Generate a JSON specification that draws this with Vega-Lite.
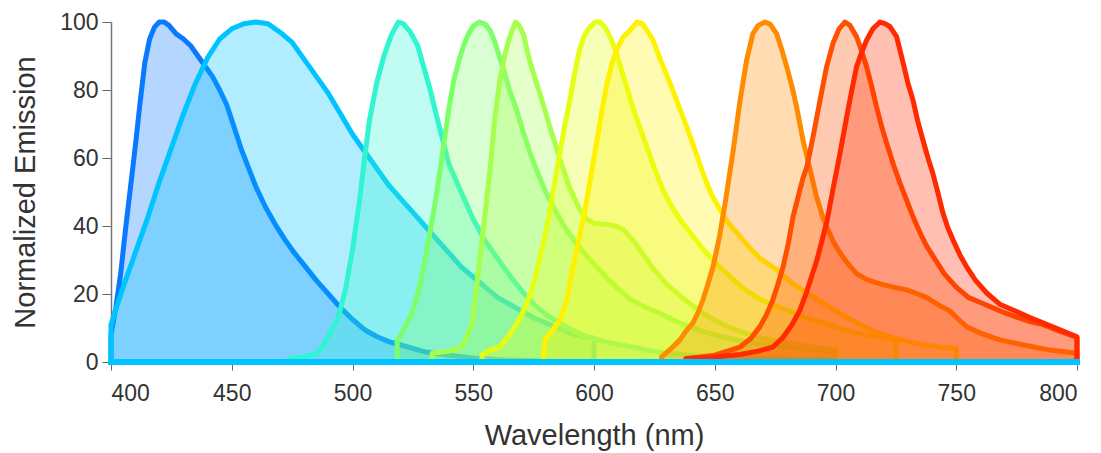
{
  "$schema": "https://vega.github.io/schema/vega-lite/v6.json",
  "width": 966,
  "height": 340,
  "autosize": "none",
  "padding": {"left": 111, "top": 22, "right": 24, "bottom": 91},
  "background": "white",
  "config": {"view": {"stroke": null}, "font": "Liberation Sans"},
  "datasets": {
    "spectra": [
      {"s":"a","x":400,"y":8},{"s":"a","x":402,"y":16},{"s":"a","x":404,"y":26},{"s":"a","x":406,"y":39},{"s":"a","x":408,"y":51},{"s":"a","x":410,"y":63},{"s":"a","x":412,"y":76},{"s":"a","x":414,"y":88},{"s":"a","x":416,"y":95},{"s":"a","x":418,"y":98.5},{"s":"a","x":420,"y":100},{"s":"a","x":422,"y":100},{"s":"a","x":424,"y":99},{"s":"a","x":427,"y":96.5},{"s":"a","x":430,"y":95},{"s":"a","x":433,"y":93},{"s":"a","x":436,"y":90},{"s":"a","x":439,"y":87},{"s":"a","x":442,"y":84},{"s":"a","x":445,"y":80},{"s":"a","x":448,"y":75.5},{"s":"a","x":451,"y":69},{"s":"a","x":454,"y":62.5},{"s":"a","x":457,"y":57},{"s":"a","x":460,"y":51.5},{"s":"a","x":464,"y":45.5},{"s":"a","x":468,"y":40.5},{"s":"a","x":472,"y":36},{"s":"a","x":476,"y":32},{"s":"a","x":480,"y":28.5},{"s":"a","x":485,"y":24},{"s":"a","x":490,"y":20},{"s":"a","x":495,"y":16},{"s":"a","x":500,"y":12.5},{"s":"a","x":505,"y":9.5},{"s":"a","x":510,"y":7.5},{"s":"a","x":515,"y":6},{"s":"a","x":520,"y":5},{"s":"a","x":530,"y":3},{"s":"a","x":540,"y":2},{"s":"a","x":550,"y":1.2},{"s":"a","x":565,"y":0.6},{"s":"a","x":580,"y":0.3},{"s":"a","x":600,"y":0},
      {"s":"b","x":400,"y":11},{"s":"b","x":405,"y":22},{"s":"b","x":410,"y":32},{"s":"b","x":415,"y":42},{"s":"b","x":420,"y":53},{"s":"b","x":425,"y":63},{"s":"b","x":430,"y":73},{"s":"b","x":435,"y":82},{"s":"b","x":440,"y":89.5},{"s":"b","x":445,"y":95},{"s":"b","x":450,"y":98},{"s":"b","x":455,"y":99.5},{"s":"b","x":460,"y":100},{"s":"b","x":465,"y":99.5},{"s":"b","x":470,"y":97},{"s":"b","x":475,"y":94},{"s":"b","x":480,"y":89},{"s":"b","x":485,"y":84},{"s":"b","x":490,"y":79},{"s":"b","x":495,"y":73},{"s":"b","x":500,"y":67},{"s":"b","x":505,"y":62},{"s":"b","x":510,"y":57},{"s":"b","x":515,"y":52},{"s":"b","x":520,"y":48},{"s":"b","x":525,"y":44},{"s":"b","x":530,"y":40},{"s":"b","x":535,"y":36},{"s":"b","x":540,"y":32},{"s":"b","x":545,"y":28},{"s":"b","x":550,"y":25},{"s":"b","x":555,"y":22},{"s":"b","x":560,"y":19},{"s":"b","x":565,"y":17},{"s":"b","x":570,"y":15},{"s":"b","x":575,"y":13},{"s":"b","x":580,"y":11.5},{"s":"b","x":585,"y":10},{"s":"b","x":590,"y":8.5},{"s":"b","x":595,"y":7.5},{"s":"b","x":600,"y":7},
      {"s":"c","x":474,"y":1},{"s":"c","x":480,"y":1.5},{"s":"c","x":485,"y":2.6},{"s":"c","x":488,"y":5},{"s":"c","x":491,"y":9},{"s":"c","x":494,"y":13},{"s":"c","x":497,"y":21},{"s":"c","x":500,"y":33},{"s":"c","x":503,"y":48},{"s":"c","x":505,"y":60},{"s":"c","x":507,"y":71},{"s":"c","x":510,"y":82},{"s":"c","x":513,"y":90},{"s":"c","x":516,"y":96},{"s":"c","x":519,"y":100},{"s":"c","x":521,"y":99.5},{"s":"c","x":524,"y":97},{"s":"c","x":527,"y":93},{"s":"c","x":532,"y":80.5},{"s":"c","x":536,"y":69},{"s":"c","x":540,"y":58},{"s":"c","x":545,"y":50},{"s":"c","x":550,"y":42},{"s":"c","x":555,"y":35.5},{"s":"c","x":560,"y":30.5},{"s":"c","x":565,"y":25.5},{"s":"c","x":570,"y":21},{"s":"c","x":575,"y":17},{"s":"c","x":580,"y":14},{"s":"c","x":585,"y":11.8},{"s":"c","x":590,"y":9.8},{"s":"c","x":595,"y":8},{"s":"c","x":600,"y":6.8},{"s":"c","x":607,"y":5.5},{"s":"c","x":615,"y":4.6},{"s":"c","x":622,"y":3.5},{"s":"c","x":630,"y":2.6},{"s":"c","x":640,"y":2},{"s":"c","x":655,"y":1.5},{"s":"c","x":675,"y":1.1},{"s":"c","x":700,"y":0.8},
      {"s":"d","x":518.5,"y":6},{"s":"d","x":521,"y":9.5},{"s":"d","x":524,"y":13.3},{"s":"d","x":526,"y":17.5},{"s":"d","x":528,"y":23},{"s":"d","x":530,"y":30},{"s":"d","x":532,"y":38},{"s":"d","x":534,"y":46},{"s":"d","x":536,"y":55},{"s":"d","x":538,"y":65},{"s":"d","x":540,"y":75},{"s":"d","x":542,"y":83},{"s":"d","x":544,"y":88.5},{"s":"d","x":546,"y":93},{"s":"d","x":548,"y":96.5},{"s":"d","x":550,"y":98.8},{"s":"d","x":552.5,"y":100},{"s":"d","x":555,"y":99.3},{"s":"d","x":557,"y":97.5},{"s":"d","x":559,"y":94},{"s":"d","x":561,"y":89.5},{"s":"d","x":563,"y":85},{"s":"d","x":565,"y":80},{"s":"d","x":568,"y":74},{"s":"d","x":571,"y":67},{"s":"d","x":574,"y":60.5},{"s":"d","x":577,"y":55},{"s":"d","x":580,"y":50},{"s":"d","x":584,"y":44.5},{"s":"d","x":588,"y":39.5},{"s":"d","x":592,"y":35.5},{"s":"d","x":596,"y":32},{"s":"d","x":600,"y":28.8},{"s":"d","x":605,"y":25},{"s":"d","x":610,"y":21.5},{"s":"d","x":615,"y":18.5},{"s":"d","x":621,"y":16.2},{"s":"d","x":627,"y":14.4},{"s":"d","x":634,"y":12},{"s":"d","x":641,"y":10},{"s":"d","x":650,"y":8},{"s":"d","x":660,"y":6.3},{"s":"d","x":670,"y":5.2},{"s":"d","x":685,"y":4},{"s":"d","x":700,"y":3},
      {"s":"e","x":533,"y":2.6},{"s":"e","x":540,"y":3.2},{"s":"e","x":545,"y":4.4},{"s":"e","x":547,"y":7},{"s":"e","x":549.5,"y":11.5},{"s":"e","x":551.5,"y":23},{"s":"e","x":554,"y":38},{"s":"e","x":557,"y":57},{"s":"e","x":559,"y":72},{"s":"e","x":561,"y":83},{"s":"e","x":563,"y":90},{"s":"e","x":565,"y":95.5},{"s":"e","x":567.5,"y":100},{"s":"e","x":569,"y":99},{"s":"e","x":571,"y":96},{"s":"e","x":572,"y":92.5},{"s":"e","x":574,"y":87},{"s":"e","x":577.6,"y":79},{"s":"e","x":581.8,"y":69},{"s":"e","x":586,"y":59.5},{"s":"e","x":590,"y":51},{"s":"e","x":594,"y":45},{"s":"e","x":597,"y":42},{"s":"e","x":600,"y":40.8},{"s":"e","x":604,"y":40.5},{"s":"e","x":608,"y":40.2},{"s":"e","x":612,"y":39},{"s":"e","x":616,"y":36},{"s":"e","x":620,"y":32},{"s":"e","x":625,"y":27},{"s":"e","x":630,"y":23},{"s":"e","x":635,"y":19.8},{"s":"e","x":641,"y":16.5},{"s":"e","x":648,"y":13},{"s":"e","x":655,"y":10.5},{"s":"e","x":662,"y":8.6},{"s":"e","x":670,"y":7},{"s":"e","x":680,"y":5.5},{"s":"e","x":690,"y":4.4},{"s":"e","x":700,"y":3.6},
      {"s":"f","x":553.6,"y":2},{"s":"f","x":557,"y":3.5},{"s":"f","x":561,"y":4.4},{"s":"f","x":565,"y":8},{"s":"f","x":569,"y":12.4},{"s":"f","x":572,"y":17},{"s":"f","x":575,"y":23},{"s":"f","x":578,"y":32},{"s":"f","x":580,"y":38},{"s":"f","x":582,"y":45.6},{"s":"f","x":584,"y":54},{"s":"f","x":586,"y":62},{"s":"f","x":588,"y":70},{"s":"f","x":590,"y":77},{"s":"f","x":592,"y":85},{"s":"f","x":594,"y":91.8},{"s":"f","x":596,"y":96},{"s":"f","x":598.3,"y":98.5},{"s":"f","x":600.5,"y":100},{"s":"f","x":602.5,"y":100},{"s":"f","x":604.5,"y":98.5},{"s":"f","x":606.6,"y":95.7},{"s":"f","x":609,"y":91.5},{"s":"f","x":611,"y":86.8},{"s":"f","x":613.5,"y":81},{"s":"f","x":616,"y":75},{"s":"f","x":619,"y":69},{"s":"f","x":622,"y":63},{"s":"f","x":625,"y":57},{"s":"f","x":628.6,"y":50.5},{"s":"f","x":632,"y":46},{"s":"f","x":636,"y":41.5},{"s":"f","x":641,"y":37},{"s":"f","x":646,"y":32.5},{"s":"f","x":652,"y":28},{"s":"f","x":658,"y":24},{"s":"f","x":662,"y":21.5},{"s":"f","x":668.7,"y":18.5},{"s":"f","x":675,"y":16.5},{"s":"f","x":681,"y":15},{"s":"f","x":688,"y":13},{"s":"f","x":695,"y":11.5},{"s":"f","x":702,"y":9.8},{"s":"f","x":709,"y":8.5},{"s":"f","x":717,"y":7.5},{"s":"f","x":725,"y":6.5},
      {"s":"g","x":579,"y":1},{"s":"g","x":579.7,"y":6.5},{"s":"g","x":583,"y":9.5},{"s":"g","x":586,"y":12.4},{"s":"g","x":589,"y":19},{"s":"g","x":591.3,"y":28},{"s":"g","x":594,"y":37},{"s":"g","x":597,"y":47.6},{"s":"g","x":599,"y":56},{"s":"g","x":601.2,"y":65},{"s":"g","x":603.3,"y":74},{"s":"g","x":605.4,"y":82},{"s":"g","x":607.5,"y":88},{"s":"g","x":609.5,"y":92},{"s":"g","x":612,"y":95.5},{"s":"g","x":615,"y":97.6},{"s":"g","x":617.8,"y":100},{"s":"g","x":620,"y":99.5},{"s":"g","x":622,"y":97.5},{"s":"g","x":624.4,"y":94.7},{"s":"g","x":628,"y":88},{"s":"g","x":631.5,"y":82},{"s":"g","x":635,"y":75.5},{"s":"g","x":638.5,"y":69},{"s":"g","x":642,"y":62},{"s":"g","x":645.1,"y":55.5},{"s":"g","x":648.5,"y":49.5},{"s":"g","x":652.2,"y":44.7},{"s":"g","x":655.5,"y":41},{"s":"g","x":659.2,"y":38},{"s":"g","x":664,"y":34},{"s":"g","x":668.7,"y":30.5},{"s":"g","x":675,"y":27.5},{"s":"g","x":682.4,"y":23},{"s":"g","x":688,"y":20.3},{"s":"g","x":693.6,"y":18},{"s":"g","x":700,"y":15},{"s":"g","x":709,"y":11.5},{"s":"g","x":716,"y":9},{"s":"g","x":722.6,"y":7.4},{"s":"g","x":730,"y":6},{"s":"g","x":737,"y":5},{"s":"g","x":743.3,"y":4.4},{"s":"g","x":750,"y":4},
      {"s":"h","x":628,"y":1.5},{"s":"h","x":632,"y":4},{"s":"h","x":635.6,"y":6.5},{"s":"h","x":638,"y":9},{"s":"h","x":641,"y":11.5},{"s":"h","x":643,"y":14.5},{"s":"h","x":645.1,"y":18.2},{"s":"h","x":647,"y":22.5},{"s":"h","x":649.3,"y":28},{"s":"h","x":652,"y":37},{"s":"h","x":654.5,"y":47.6},{"s":"h","x":657.6,"y":62},{"s":"h","x":660.5,"y":77},{"s":"h","x":663.2,"y":88.8},{"s":"h","x":665.8,"y":96.6},{"s":"h","x":668,"y":99},{"s":"h","x":670.8,"y":100},{"s":"h","x":673,"y":99.3},{"s":"h","x":675.6,"y":96.6},{"s":"h","x":677.7,"y":92},{"s":"h","x":679.8,"y":86.8},{"s":"h","x":682,"y":81},{"s":"h","x":683.9,"y":75},{"s":"h","x":686.6,"y":65},{"s":"h","x":689,"y":58},{"s":"h","x":692,"y":49},{"s":"h","x":695,"y":42},{"s":"h","x":699,"y":35.5},{"s":"h","x":702,"y":32},{"s":"h","x":705,"y":29},{"s":"h","x":708.7,"y":26},{"s":"h","x":713,"y":24.2},{"s":"h","x":718.4,"y":23},{"s":"h","x":724,"y":22},{"s":"h","x":729.4,"y":21.2},{"s":"h","x":733,"y":20.3},{"s":"h","x":737.7,"y":19},{"s":"h","x":743.3,"y":16.5},{"s":"h","x":747.4,"y":15},{"s":"h","x":751,"y":12.5},{"s":"h","x":754.3,"y":10.4},{"s":"h","x":760,"y":8.5},{"s":"h","x":768,"y":6.5},{"s":"h","x":778,"y":5},{"s":"h","x":788.8,"y":3.5},{"s":"h","x":800,"y":2.6},
      {"s":"i","x":639,"y":1},{"s":"i","x":650,"y":2},{"s":"i","x":660.5,"y":4.4},{"s":"i","x":665,"y":7},{"s":"i","x":668.7,"y":10.4},{"s":"i","x":671.5,"y":14},{"s":"i","x":674,"y":18.2},{"s":"i","x":676,"y":22.5},{"s":"i","x":678.3,"y":28},{"s":"i","x":680.5,"y":35},{"s":"i","x":682.4,"y":42.7},{"s":"i","x":684.5,"y":48.5},{"s":"i","x":686.5,"y":54},{"s":"i","x":688.2,"y":57.5},{"s":"i","x":690.9,"y":67},{"s":"i","x":693.6,"y":77},{"s":"i","x":696.3,"y":86.8},{"s":"i","x":699,"y":93.8},{"s":"i","x":701.5,"y":98},{"s":"i","x":703.9,"y":100},{"s":"i","x":706,"y":99},{"s":"i","x":708.7,"y":95.7},{"s":"i","x":710.8,"y":91.5},{"s":"i","x":712.9,"y":86.8},{"s":"i","x":715,"y":81},{"s":"i","x":717,"y":75},{"s":"i","x":719,"y":69.5},{"s":"i","x":721.2,"y":64.3},{"s":"i","x":724,"y":58},{"s":"i","x":726.7,"y":52.6},{"s":"i","x":729.5,"y":47.5},{"s":"i","x":732.1,"y":42.7},{"s":"i","x":735,"y":38},{"s":"i","x":737.8,"y":34},{"s":"i","x":740.5,"y":31},{"s":"i","x":745,"y":26},{"s":"i","x":750,"y":22},{"s":"i","x":755,"y":19},{"s":"i","x":760,"y":17.5},{"s":"i","x":765,"y":16},{"s":"i","x":770,"y":14.5},{"s":"i","x":775,"y":13.2},{"s":"i","x":780,"y":12},{"s":"i","x":786,"y":11},{"s":"i","x":793,"y":9},{"s":"i","x":800,"y":7.2},
      {"s":"j","x":638,"y":1},{"s":"j","x":650,"y":1.5},{"s":"j","x":660.5,"y":2.2},{"s":"j","x":668,"y":3.2},{"s":"j","x":674,"y":4.4},{"s":"j","x":678,"y":7},{"s":"j","x":682,"y":11},{"s":"j","x":685.3,"y":15.3},{"s":"j","x":688,"y":20.5},{"s":"j","x":690.5,"y":26},{"s":"j","x":692.3,"y":30},{"s":"j","x":694.5,"y":36},{"s":"j","x":696.5,"y":41.5},{"s":"j","x":699,"y":51},{"s":"j","x":701.5,"y":60},{"s":"j","x":704.6,"y":72},{"s":"j","x":706.5,"y":79},{"s":"j","x":708.7,"y":86.8},{"s":"j","x":710.8,"y":91},{"s":"j","x":712.9,"y":94.7},{"s":"j","x":715.5,"y":98},{"s":"j","x":718.4,"y":100},{"s":"j","x":720.5,"y":99.5},{"s":"j","x":722.6,"y":98.6},{"s":"j","x":725.3,"y":95.7},{"s":"j","x":728,"y":88},{"s":"j","x":730,"y":82},{"s":"j","x":732.1,"y":77},{"s":"j","x":734,"y":71},{"s":"j","x":736.2,"y":65.3},{"s":"j","x":738.3,"y":60},{"s":"j","x":740.3,"y":55.5},{"s":"j","x":742.5,"y":49.5},{"s":"j","x":744.5,"y":43.8},{"s":"j","x":746.5,"y":39.5},{"s":"j","x":748.6,"y":36},{"s":"j","x":751.5,"y":31.5},{"s":"j","x":754.3,"y":28},{"s":"j","x":758,"y":24},{"s":"j","x":762.6,"y":20.3},{"s":"j","x":768,"y":17},{"s":"j","x":773.5,"y":15.3},{"s":"j","x":780,"y":13.2},{"s":"j","x":785.9,"y":11.5},{"s":"j","x":793,"y":9.5},{"s":"j","x":800,"y":7.4}
    ]
  },
  "layer": [
    {
      "data": {"name": "spectra"},
      "mark": {"type": "area", "fillOpacity": 0.3, "strokeOpacity": 1, "strokeWidth": 5, "strokeJoin": "round", "interpolate": "linear"},
      "encoding": {
        "x": {
          "field": "x", "type": "quantitative",
          "scale": {"domain": [400, 800], "nice": false, "zero": false},
          "title": "Wavelength (nm)",
          "axis": {"values": [400, 450, 500, 550, 600, 650, 700, 750, 800], "domain": false, "grid": false, "tickSize": 8, "tickColor": "#666", "tickWidth": 1, "labelFontSize": 23, "labelColor": "#333", "labelPadding": 12, "titleFontSize": 29, "titleFontWeight": "normal", "titleColor": "#333", "titlePadding": 16}
        },
        "y": {
          "field": "y", "type": "quantitative", "stack": null,
          "scale": {"domain": [0, 100], "nice": false},
          "title": "Normalized Emission",
          "axis": {"values": [0, 20, 40, 60, 80, 100], "domain": true, "domainColor": "#777", "domainWidth": 1.5, "grid": false, "tickSize": 9, "tickColor": "#666", "tickWidth": 1, "labelFontSize": 23, "labelColor": "#333", "labelPadding": 4, "titleFontSize": 29, "titleFontWeight": "normal", "titleColor": "#333", "titlePadding": 19}
        },
        "color": {
          "field": "s", "type": "nominal", "legend": null,
          "scale": {"domain": ["a","b","c","d","e","f","g","h","i","j"], "range": ["#0a78ff","#00c4ff","#30f5d0","#7dff6a","#a6ff4c","#e5ff12","#fff200","#ff8c00","#ff5000","#ff2a00"]}
        },
        "stroke": {
          "field": "s", "type": "nominal", "legend": null,
          "scale": {"domain": ["a","b","c","d","e","f","g","h","i","j"], "range": ["#0a78ff","#00c4ff","#30f5d0","#7dff6a","#a6ff4c","#e5ff12","#fff200","#ff8c00","#ff5000","#ff2a00"]}
        }
      }
    },
    {
      "data": {"values": [{}]},
      "mark": {"type": "rule", "color": "#00c4ff", "strokeWidth": 6, "strokeCap": "square"},
      "encoding": {"x": {"datum": 400}, "x2": {"datum": 800}, "y": {"datum": 0}}
    }
  ]
}
